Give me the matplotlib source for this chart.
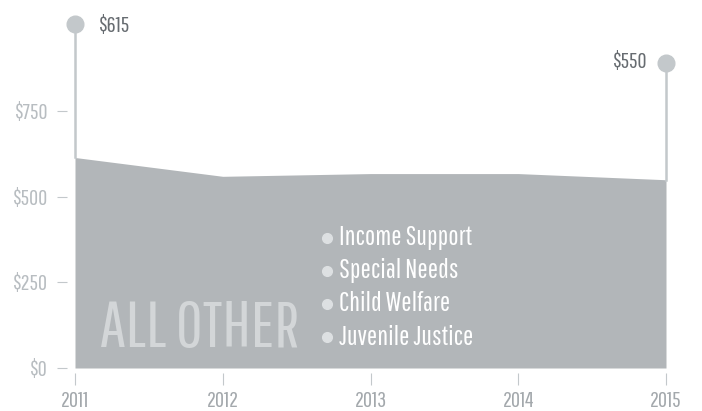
import matplotlib
matplotlib.use('Agg')
import matplotlib.pyplot as plt

# Данные графика
years = [2011, 2012, 2013, 2014, 2015]
values = [615, 560, 568, 568, 550]
yticks = [0, 250, 500, 750]
ytick_labels = ['$0', '$250', '$500', '$750']
# подписи значений на концах
end_labels = ['$615', '$550']
end_marker_y = [1005, 891]
items = ['Income Support', 'Special Needs', 'Child Welfare', 'Juvenile Justice']

plt.rcParams['font.family'] = ['Pathway Gothic One', 'DejaVu Sans']

fig = plt.figure(figsize=(7.02, 4.11), dpi=100)
ax = fig.add_axes([75 / 702, 43 / 411, 591 / 702, 357 / 411])
ax.set_xlim(2011, 2015)
ax.set_ylim(0, 1043)

# Заливка области
ax.fill_between(years, values, color='#b2b6b9', linewidth=0, zorder=2)

# Вертикальные линии и кружки на концах
ends = [(years[0], values[0]), (years[-1], values[-1])]
for (yr, v), my, lab in zip(ends, end_marker_y, end_labels):
    ax.plot([yr, yr], [v, my], color='#c3c8cb', linewidth=1.8, zorder=3, clip_on=False)
    ax.plot(yr, my, 'o', color='#c3c8cb', markersize=12, zorder=4, clip_on=False)
    if yr == years[0]:
        ax.text(yr + 0.155, my - 5, lab, ha='left', va='center', fontsize=16,
                color='#676c71', fontweight='bold')
    else:
        ax.text(yr - 0.13, my + 3, lab, ha='right', va='center', fontsize=16,
                color='#676c71', fontweight='bold')

# Большая надпись
ax.text(2011.17, 61, 'ALL OTHER', fontsize=47, color='#d3d6d8', ha='left',
        va='baseline', zorder=3)

# Список категорий
for i, name in enumerate(items):
    y = 380 - i * 96.5
    ax.plot(2012.705, y, 'o', color='#dde0e2', markersize=7, zorder=3)
    ax.text(2012.79, y, name, fontsize=19.5, color='white', va='center', zorder=3)

# Оси
for s in ['top', 'right', 'left', 'bottom']:
    ax.spines[s].set_visible(False)
ax.spines['left'].set_position(('outward', 5.8))
ax.spines['bottom'].set_position(('outward', 3.6))

ax.set_yticks(yticks)
ax.set_yticklabels(ytick_labels)
ax.set_xticks(years)
ax.set_xticklabels([str(y) for y in years])
ax.tick_params(axis='y', length=7.2, width=0.8, color='#c3c8cb', pad=7,
               labelsize=16, labelcolor='#b8bdc1')
ax.tick_params(axis='x', length=8.6, width=0.8, color='#c3c8cb', pad=4,
               labelsize=16, labelcolor='#a3a8ac')

fig.savefig('out.png')
